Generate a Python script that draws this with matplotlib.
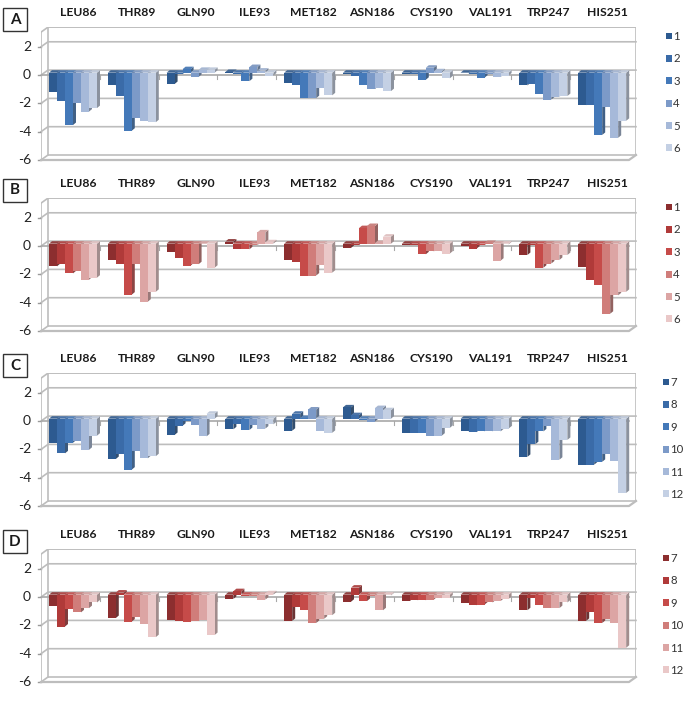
import matplotlib
matplotlib.use('Agg')
import matplotlib.pyplot as plt
from matplotlib.patches import Polygon, Rectangle
from matplotlib.colors import to_rgb

plt.rcParams['font.family'] = ['Lato', 'DejaVu Sans']

residuos = ['LEU86', 'THR89', 'GLN90', 'ILE93', 'MET182', 'ASN186', 'CYS190', 'VAL191', 'TRP247', 'HIS251']
y_ticks = [2, 0, -2, -4, -6]

azules = ['#2d5a90', '#3a6ba8', '#4479b9', '#7c9ac8', '#a6b9d9', '#c4d0e4']
rojos = ['#8c2e2f', '#b03a39', '#c64b49', '#d07d7a', '#dca5a4', '#eac8c8']

series_14 = ['1', '2', '3', '4', '5', '6']
series_712 = ['7', '8', '9', '10', '11', '12']

# una fila por residuo, una columna por serie
datos_a = [
	[-1.35, -2.0, -3.7, -2.15, -2.75, -2.5],
	[-0.9, -1.65, -4.1, -3.2, -3.4, -3.5],
	[-0.8, -0.1, 0.25, -0.3, 0.2, 0.2],
	[0.05, -0.1, -0.6, 0.4, 0.15, -0.2],
	[-0.7, -0.9, -1.8, -1.8, -1.1, -1.6],
	[-0.1, -0.2, -0.9, -1.15, -1.1, -1.3],
	[-0.1, -0.1, -0.5, 0.35, 0.1, -0.4],
	[-0.05, -0.1, -0.35, -0.1, -0.3, -0.2],
	[-0.9, -0.8, -1.5, -1.9, -1.7, -1.65],
	[-2.3, -2.25, -4.4, -2.4, -4.6, -3.4],
]
datos_b = [
	[-1.6, -1.4, -2.1, -1.9, -2.55, -2.4],
	[-1.15, -1.4, -3.6, -1.45, -4.1, -3.4],
	[-0.6, -1.0, -1.55, -1.45, 0.0, -1.7],
	[0.15, -0.35, -0.4, -0.1, 0.8, 0.1],
	[-1.15, -1.3, -2.25, -2.25, -1.5, -2.05],
	[-0.3, -0.1, 1.1, 1.25, 0.05, 0.5],
	[-0.1, -0.1, -0.75, -0.55, -0.55, -0.7],
	[-0.15, -0.35, -0.1, 0.05, -1.2, -0.05],
	[-0.8, -0.1, -1.7, -1.4, -1.15, -0.8],
	[-1.65, -2.6, -2.9, -4.95, -3.65, -3.4],
]
datos_c = [
	[-1.7, -2.45, -1.7, -1.55, -2.2, -1.2],
	[-2.85, -2.5, -3.6, -2.3, -2.8, -2.65],
	[-1.15, -0.5, -0.15, -0.45, -1.25, 0.35],
	[-0.75, -0.35, -0.8, -0.45, -0.7, -0.4],
	[-0.85, 0.35, 0.05, 0.65, -0.85, -1.0],
	[0.8, 0.25, -0.1, -0.2, 0.75, 0.6],
	[-1.0, -1.0, -1.0, -1.2, -1.2, -0.65],
	[-0.9, -0.95, -0.9, -0.9, -0.9, -0.7],
	[-2.7, -1.8, -0.9, -0.55, -2.9, -1.5],
	[-3.25, -3.25, -3.05, -2.5, -3.0, -5.25],
]
datos_d = [
	[-0.8, -2.25, -1.0, -1.25, -0.95, -0.55],
	[-1.65, 0.15, -1.9, -1.55, -2.05, -3.0],
	[-1.8, -1.85, -1.9, -1.85, -1.8, -2.85],
	[-0.3, 0.25, -0.1, -0.1, -0.35, 0.1],
	[-1.85, -0.85, -1.1, -2.0, -1.7, -1.45],
	[-0.5, 0.5, -0.45, -0.1, -1.1, -0.05],
	[-0.45, -0.4, -0.4, -0.35, -0.25, -0.2],
	[-0.6, -0.75, -0.7, -0.55, -0.45, -0.3],
	[-1.1, -0.2, -0.75, -0.95, -0.95, -0.55],
	[-1.85, -1.2, -2.0, -1.7, -2.0, -3.75],
]

W, H = 685.0, 703.0
PX_X = 58.8		# pixeles por categoria
PX_Y = 14.15	# pixeles por unidad
WALL_DX, WALL_DY = 7 / PX_X, 5 / PX_Y	# corrimiento de la pared del fondo
BAR_DX, BAR_DY = 3 / PX_X, 2.5 / PX_Y	# profundidad de la barra
BAR_W = 8 / PX_X
BAR_Y0 = 0.17
YMIN, YMAX = -6, 3.4
GRIS = '#bdbdbd'


def oscurecer(c, f=0.58):
	r, g, b = to_rgb(c)
	return (r * f + 0.1, g * f + 0.1, b * f + 0.1)


def panel(base_px, datos, colores, nombres, letra, box_y, leg_x):
	alto = (YMAX - YMIN) * PX_Y
	ax = fig.add_axes([41 / W, 1 - base_px / H, 595 / W, alto / H])
	ax.set_xlim(0, 595 / PX_X)
	ax.set_ylim(YMIN, YMAX)
	ax.axis('off')
	xr = 10

	# paredes y grilla
	for v in y_ticks:
		ax.plot([0, WALL_DX, xr + WALL_DX], [v, v + WALL_DY, v + WALL_DY], color=GRIS, lw=1.2, clip_on=False, zorder=1)
		ax.plot([-3 / PX_X, 0], [v, v], color='#9a9a9a', lw=1, clip_on=False, zorder=1)
	top = YMAX - 0.01
	ax.plot([0, 0], [-6, top - WALL_DY], color=GRIS, lw=1.2, zorder=1)
	ax.plot([0, WALL_DX, xr + WALL_DX, xr + WALL_DX], [top - WALL_DY, top, top, -6 + WALL_DY], color=GRIS, lw=1.2, zorder=1)
	ax.plot([WALL_DX, WALL_DX], [-6 + WALL_DY, top], color=GRIS, lw=1.2, zorder=1)
	ax.plot([0, xr, xr + WALL_DX], [-6, -6, -6 + WALL_DY], color=GRIS, lw=1.6, zorder=1, clip_on=False)

	# eje del cero con las marcas entre categorias
	ax.plot([0, xr], [0, 0], color='#a8a8a8', lw=1.2, zorder=2)
	for i in range(1, xr):
		ax.plot([i, i], [0, -0.3], color='#a8a8a8', lw=0.8, zorder=2)

	# barras: de izquierda a derecha, la siguiente tapa el costado de la anterior
	z = 3
	handles = []
	for i, fila in enumerate(datos):
		x0 = i + 0.544 - 3 * BAR_W
		for k, v in enumerate(fila):
			x = x0 + k * BAR_W
			c = colores[k]
			y_lo, y_hi = BAR_Y0 + min(v, 0), BAR_Y0 + max(v, 0)
			ax.add_patch(Polygon([(x + BAR_W, y_lo), (x + BAR_W + BAR_DX, y_lo + BAR_DY),
				(x + BAR_W + BAR_DX, y_hi + BAR_DY), (x + BAR_W, y_hi)], closed=True, fc=oscurecer(c), ec='none', zorder=z))
			ax.add_patch(Polygon([(x, y_hi), (x + BAR_DX, y_hi + BAR_DY), (x + BAR_W + BAR_DX, y_hi + BAR_DY),
				(x + BAR_W, y_hi)], closed=True, fc=oscurecer(c, 0.85), ec='none', zorder=z))
			b = ax.bar(x + BAR_W / 2, v, bottom=BAR_Y0, width=BAR_W, color=c, lw=0, zorder=z + 1)
			if i == 0:
				handles.append(b[0])
			z += 2

	# nombres de los residuos arriba
	for i, nombre in enumerate(residuos):
		ax.text(i + 0.63, YMAX + 14.5 / PX_Y, nombre, ha='center', va='center', fontsize=8.7, fontweight='bold', color='#1a1a1a', clip_on=False)
	for v in y_ticks:
		ax.text(-10 / PX_X, v, str(v), ha='right', va='center', fontsize=10, color='#222222', clip_on=False)

	leg = ax.legend(handles, nombres, loc='upper left', frameon=False, fontsize=8.2, bbox_to_anchor=(leg_x, 0.97),
		borderaxespad=0, borderpad=0, handlelength=0.55, handleheight=0.55, handletextpad=0.1, labelspacing=1.0)
	for t in leg.get_texts():
		t.set_color('#333333')

	# recuadro con la letra
	fig.add_artist(Rectangle((3 / W, 1 - (box_y + 23) / H), 24 / W, 23 / H, transform=fig.transFigure, fc='white', ec='#333333', lw=1))
	fig.text(15 / W, 1 - (box_y + 11.5) / H, letra, ha='center', va='center', fontsize=11, fontweight='bold', color='#1a1a1a')
	return ax


fig = plt.figure(figsize=(6.85, 7.03), dpi=100)
panel(160, datos_a, azules, series_14, 'A', 8, 1.05)
panel(331, datos_b, rojos, series_14, 'B', 179, 1.05)
panel(506, datos_c, azules, series_712, 'C', 354, 1.045)
panel(682, datos_d, rojos, series_712, 'D', 530, 1.045)
plt.savefig('out.png', dpi=100)
